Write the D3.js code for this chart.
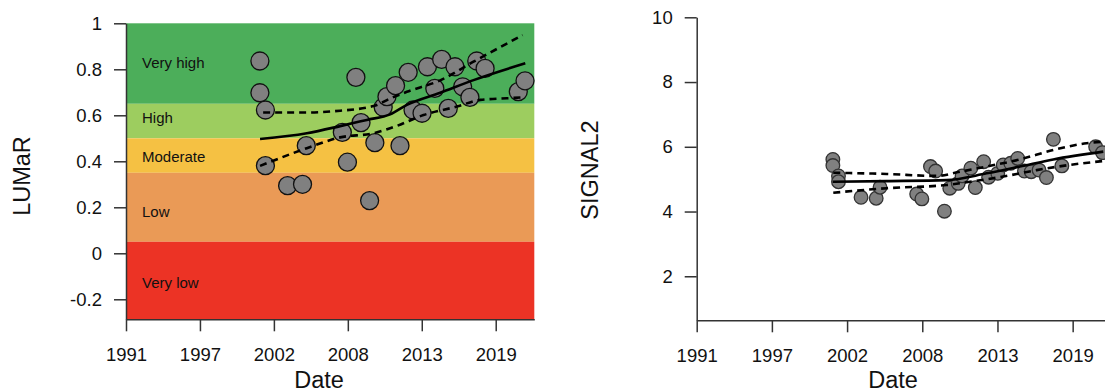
<!DOCTYPE html>
<html>
<head>
<meta charset="utf-8">
<script src="https://cdn.jsdelivr.net/npm/d3@7"></script>
<style>
  body { margin: 0; background: #fff; }
  svg { display: block; font-family: "Liberation Sans", Arial, Helvetica, sans-serif; }
  .axis path, .axis line { stroke: #333; stroke-width: 1.5; }
</style>
</head>
<body>
<div id="chart"></div>
<script>
// sampling dates (decimal years), shared by both panels
const dates = [2000.96, 2000.96, 2001.37, 2001.37, 2003.02, 2004.13, 2004.41, 2007.09, 2007.47, 2008.1,
  2008.48, 2009.12, 2009.51, 2010.13, 2010.41, 2011.05, 2011.38, 2011.99, 2012.35, 2013.02,
  2013.42, 2013.97, 2014.48, 2014.97, 2015.47, 2016.04, 2016.58, 2017.09, 2017.71, 2020.18, 2020.68]

const lumar = [0.836, 0.698, 0.623, 0.381, 0.294, 0.300, 0.468, 0.526, 0.396, 0.765,
  0.568, 0.229, 0.481, 0.635, 0.681, 0.729, 0.468, 0.787, 0.623, 0.609,
  0.811, 0.717, 0.843, 0.630, 0.811, 0.724, 0.678, 0.836, 0.804, 0.703, 0.750]

const signal2 = [5.61, 5.42, 5.10, 4.92, 4.44, 4.41, 4.75, 4.54, 4.39, 5.39,
  5.25, 4.01, 4.72, 4.87, 5.10, 5.34, 4.74, 5.54, 5.06, 5.18,
  5.44, 5.49, 5.64, 5.25, 5.23, 5.28, 5.05, 6.23, 5.41, 6.00, 5.82]

// fitted trend and its confidence band, [year, value]
const lumarFit = [[2000.97, 0.497], [2004.45, 0.522], [2006.93, 0.553], [2008.91, 0.580], [2010.65, 0.604],
  [2011.89, 0.645], [2014.37, 0.698], [2016.85, 0.753], [2020.7, 0.826]]
const lumarUpper = [[2001.2, 0.612], [2004.45, 0.612], [2006.93, 0.620], [2009.41, 0.640], [2010.65, 0.673],
  [2011.89, 0.702], [2014.37, 0.752], [2016.85, 0.833], [2020.5, 0.949]]
const lumarLower = [[2000.97, 0.380], [2004.45, 0.457], [2006.93, 0.504], [2009.41, 0.522], [2011.15, 0.554],
  [2013.13, 0.601], [2015.61, 0.638], [2017.35, 0.667], [2019.33, 0.674], [2020.5, 0.678]]

const signalFit = [[2000.95, 4.92], [2004.9, 4.94], [2009.28, 4.97], [2012.21, 5.18], [2014.64, 5.39],
  [2017.08, 5.61], [2020.74, 5.85]]
const signalUpper = [[2000.99, 5.20], [2004.9, 5.16], [2008.56, 5.10], [2010.27, 5.23], [2012.21, 5.39],
  [2014.64, 5.61], [2017.08, 5.90], [2019.52, 6.11], [2020.74, 6.16]]
const signalLower = [[2000.99, 4.58], [2004.9, 4.72], [2009.28, 4.82], [2010.99, 4.92], [2013.42, 5.08],
  [2015.87, 5.28], [2018.3, 5.44], [2020.74, 5.56]]

// status classes of LUMaR
const bandNames = ['Very high', 'High', 'Moderate', 'Low', 'Very low']
const bandTops = [1, 0.65, 0.5, 0.35, 0.05]
const bandBottoms = [0.65, 0.5, 0.35, 0.05, -0.287]
const bandLabelAt = [0.83, 0.59, 0.42, 0.18, -0.13]
const bandColors = ['#4cae5a', '#9dcd5f', '#f5c143', '#ea9a56', '#ec3325']

const xTicks = [1991, 1996.5, 2002, 2007.5, 2013, 2018.5]
const xTickLabels = ['1991', '1997', '2002', '2008', '2013', '2019']
const lumarTicks = [-0.2, 0, 0.2, 0.4, 0.6, 0.8, 1]
const lumarTickLabels = ['-0.2', '0', '0.2', '0.4', '0.6', '0.8', '1']
const signalTicks = [2, 4, 6, 8, 10]

const svg = d3.select('#chart').append('svg')
  .attr('width', 1105)
  .attr('height', 392)

const drawPanel = (p) => {
  const x = d3.scaleLinear().domain([1991, 2021.37]).range(p.xRange)
  const y = d3.scaleLinear().domain(p.yDomain).range(p.yRange)
  const g = svg.append('g')

  if (p.bands) {
    g.selectAll('rect.band')
      .data(bandNames)
      .join('rect')
      .attr('class', 'band')
      .attr('x', p.xRange[0])
      .attr('width', p.xRange[1] - p.xRange[0])
      .attr('y', (d, i) => y(bandTops[i]))
      .attr('height', (d, i) => y(bandBottoms[i]) - y(bandTops[i]))
      .attr('fill', (d, i) => bandColors[i])

    g.selectAll('text.band')
      .data(bandNames)
      .join('text')
      .attr('class', 'band')
      .attr('x', p.xRange[0] + 16)
      .attr('y', (d, i) => y(bandLabelAt[i]))
      .attr('dy', '0.35em')
      .attr('font-size', 15)
      .attr('fill', '#111')
      .text(d => d)
  }

  g.selectAll('circle')
    .data(dates)
    .join('circle')
    .attr('cx', d => x(d))
    .attr('cy', (d, i) => y(p.values[i]))
    .attr('r', p.r)
    .attr('fill', '#808080')
    .attr('stroke', p.pointStroke)
    .attr('stroke-width', 1.3)

  const line = d3.line()
    .x(d => x(d[0]))
    .y(d => y(d[1]))
    .curve(d3.curveMonotoneX)

  g.append('path').attr('d', line(p.fit))
    .attr('fill', 'none').attr('stroke', '#000').attr('stroke-width', 2.6)
  ;[p.upper, p.lower].forEach(l => {
    g.append('path').attr('d', line(l))
      .attr('fill', 'none').attr('stroke', '#000').attr('stroke-width', 2.6)
      .attr('stroke-dasharray', '7,5')
  })

  const xAxis = g.append('g')
    .attr('class', 'axis')
    .attr('transform', `translate(0,${p.yRange[0]})`)
    .call(d3.axisBottom(x).tickValues(xTicks).tickFormat((d, i) => xTickLabels[i])
      .tickSize(12).tickSizeOuter(0).tickPadding(17))

  const yAxis = g.append('g')
    .attr('class', 'axis')
    .attr('transform', `translate(${p.xRange[0]},0)`)
    .call(d3.axisLeft(y).tickValues(p.yTicks).tickFormat((d, i) => p.yTickLabels[i])
      .tickSize(12).tickSizeOuter(0).tickPadding(12))

  ;[xAxis, yAxis].forEach(a => a
    .attr('font-size', 18.5)
    .attr('font-family', '"Liberation Sans", Arial, Helvetica, sans-serif')
    .selectAll('text').attr('fill', '#111'))

  g.append('text')
    .attr('x', p.dateX)
    .attr('y', 388)
    .attr('text-anchor', 'middle')
    .attr('font-size', 23.5)
    .attr('fill', '#111')
    .text('Date')

  g.append('text')
    .attr('transform', `translate(${p.titleX},${p.titleY}) rotate(-90)`)
    .attr('text-anchor', 'middle')
    .attr('font-size', 23.5)
    .attr('fill', '#111')
    .text(p.title)
}

drawPanel({
  xRange: [126, 534.3], yDomain: [-0.287, 1], yRange: [319.3, 23.3],
  bands: true, values: lumar, r: 9, pointStroke: '#111',
  fit: lumarFit, upper: lumarUpper, lower: lumarLower,
  yTicks: lumarTicks, yTickLabels: lumarTickLabels,
  dateX: 319, title: 'LUMaR', titleX: 30, titleY: 176
})

drawPanel({
  xRange: [696.7, 1111.9], yDomain: [0.64, 10], yRange: [320.3, 17.3],
  bands: false, values: signal2, r: 6.8, pointStroke: '#333',
  fit: signalFit, upper: signalUpper, lower: signalLower,
  yTicks: signalTicks, yTickLabels: signalTicks.map(String),
  dateX: 893, title: 'SIGNAL2', titleX: 598, titleY: 170
})
</script>
</body>
</html>
